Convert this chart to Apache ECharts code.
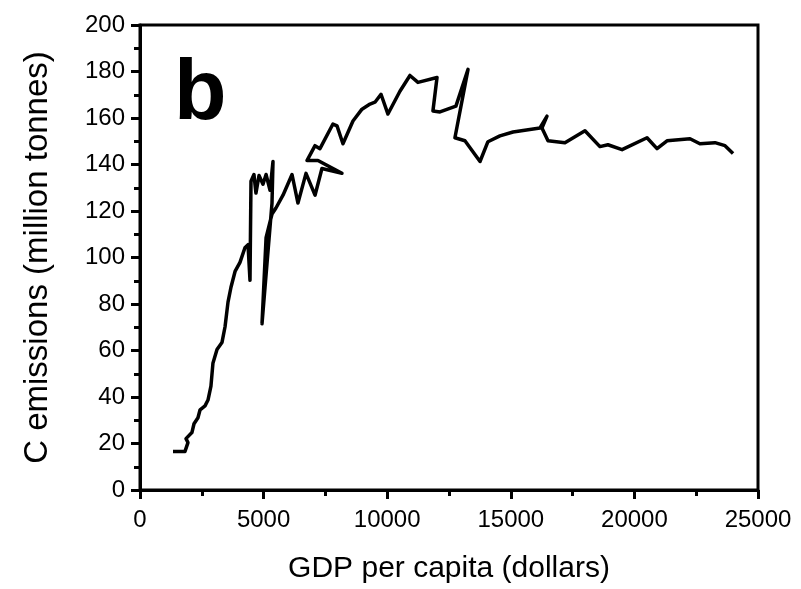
<!DOCTYPE html>
<html>
<head>
<meta charset="utf-8">
<script src="https://cdn.jsdelivr.net/npm/echarts@6/dist/echarts.min.js"></script>
<style>
html,body{margin:0;padding:0;background:#fff;}
#chart{width:801px;height:589px;}
</style>
</head>
<body>
<div id="chart"></div>
<script>
// GDP per capita (dollars), in time order
const gdp = [1335,1820,1940,1860,2100,2185,2345,2430,2630,2750,2870,2950,3115,3315,3440,3560,3680,3845,4045,4245,4370,4450,4490,4610,4690,4815,4975,5100,5260,5380,5340,4935,5100,5340,5500,5785,6150,6390,6715,7080,7360,8170,7200,6755,7080,7280,7805,7970,8210,8615,8980,9305,9505,9750,10030,10515,10920,11245,12015,11850,12135,12780,13270,12740,13145,13755,14075,14560,15090,16180,16465,16260,16505,17190,18000,18605,18930,19500,20510,20915,21320,22250,22650,23260,23665,23990];
// C emissions (million tonnes)
const emissions = [16.6,16.6,20.4,22.1,24.7,28.5,31.1,34.5,36.2,38.7,44.7,54.5,60.4,63.4,70.2,80.8,87.2,94.0,97.9,104.2,105.5,90.2,132.8,135.7,127.7,135.3,131.5,135.7,128.9,141.3,123.4,71.5,108.5,118.7,121.3,126.8,135.7,123.4,136.2,126.8,138.3,136.2,141.7,141.7,148.1,146.8,157.4,156.6,148.9,158.7,163.8,166.0,166.8,170.2,161.7,171.5,178.3,175.3,177.4,163.0,162.6,165.1,180.9,151.5,150.2,141.3,149.8,152.3,154.0,155.7,160.8,155.7,150.2,149.4,154.5,147.7,148.5,146.4,151.5,146.8,150.2,151.1,148.9,149.4,148.1,144.7];
const panelLabel = 'b';
const xTitle = 'GDP per capita (dollars)';
const yTitle = 'C emissions (million tonnes)';

const pts = gdp.map((g, i) => [g, emissions[i]]);
const chart = echarts.init(document.getElementById('chart'), null, {renderer: 'canvas'});
const font = 'Liberation Sans, Arial, sans-serif';
chart.setOption({
  animation: false,
  backgroundColor: '#fff',
  grid: {left: 140, right: 43, top: 25, bottom: 94, show: true, borderColor: '#000', borderWidth: 3, backgroundColor: 'transparent'},
  graphic: [{
    type: 'text', left: 174, top: 52,
    style: {text: panelLabel, font: 'bold 86px ' + font, fill: '#000'}
  }],
  xAxis: {
    type: 'value', min: 0, max: 25000, interval: 5000,
    name: xTitle, nameLocation: 'middle', nameGap: 64,
    nameTextStyle: {fontSize: 30, color: '#000', fontFamily: font},
    axisLine: {show: true, lineStyle: {color: '#000', width: 3}},
    axisTick: {show: true, inside: false, length: 9, lineStyle: {color: '#000', width: 3}},
    minorTick: {show: true, splitNumber: 2, length: 6, lineStyle: {color: '#000', width: 3}},
    axisLabel: {fontSize: 24, color: '#000', fontFamily: font, margin: 18, formatter: v => String(v)},
    splitLine: {show: false}
  },
  yAxis: {
    type: 'value', min: 0, max: 200, interval: 20,
    name: yTitle, nameLocation: 'middle', nameGap: 86,
    nameTextStyle: {fontSize: 33, color: '#000', fontFamily: font},
    axisLine: {show: true, lineStyle: {color: '#000', width: 3}},
    axisTick: {show: true, inside: false, length: 9, lineStyle: {color: '#000', width: 3}},
    minorTick: {show: true, splitNumber: 2, length: 6, lineStyle: {color: '#000', width: 3}},
    axisLabel: {fontSize: 24, color: '#000', fontFamily: font, margin: 15, formatter: v => String(v)},
    splitLine: {show: false}
  },
  series: [{
    type: 'line', data: pts, showSymbol: false, symbol: 'none',
    lineStyle: {color: '#000', width: 3.5, join: 'round'},
    clip: false
  }]
});
</script>
</body>
</html>
